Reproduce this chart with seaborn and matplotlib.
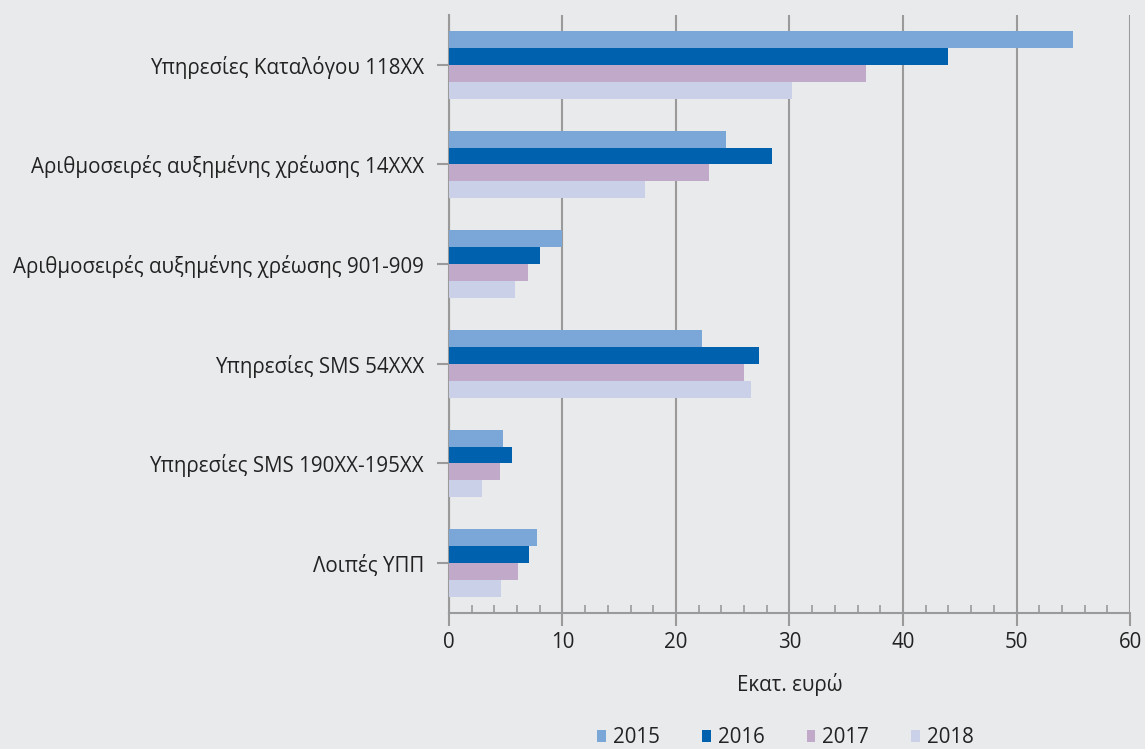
import matplotlib
matplotlib.use("Agg")
import matplotlib.pyplot as plt
import seaborn as sns
import pandas as pd
from matplotlib.ticker import MultipleLocator

categories = [
    "Υπηρεσίες Καταλόγου 118XX",
    "Αριθμοσειρές αυξημένης χρέωσης 14XXX",
    "Αριθμοσειρές αυξημένης χρέωσης 901-909",
    "Υπηρεσίες SMS 54XXX",
    "Υπηρεσίες SMS 190XX-195XX",
    "Λοιπές ΥΠΠ",
]
years = ["2015", "2016", "2017", "2018"]
v2015 = [55.0, 24.4, 10.0, 22.3, 4.8, 7.8]
v2016 = [44.0, 28.5, 8.0, 27.3, 5.6, 7.1]
v2017 = [36.7, 22.9, 7.0, 26.0, 4.5, 6.1]
v2018 = [30.2, 17.3, 5.8, 26.6, 2.9, 4.6]
colors = ["#7BA7D8", "#0061AE", "#C0A9C9", "#CAD0E8"]

rows = []
for y, vals in zip(years, [v2015, v2016, v2017, v2018]):
    for c, v in zip(categories, vals):
        rows.append({"category": c, "year": y, "value": v})
df = pd.DataFrame(rows)

sns.set_theme(style="white")
plt.rcParams["font.family"] = ["Open Sans", "DejaVu Sans"]
bg = "#E9EAEC"
txt = "#222222"
gridc = "#9A9A9A"
fs = 14.8

fig = plt.figure(figsize=(11.45, 7.49), dpi=100, facecolor=bg)
ax = fig.add_axes([0.392, 0.1816, 0.595, 0.7984])
ax.set_facecolor(bg)

sns.barplot(data=df, x="value", y="category", hue="year", order=categories,
            hue_order=years, palette=colors, orient="h", width=0.68,
            saturation=1, ax=ax, legend=True, edgecolor="none", zorder=3)

ax.set_xlim(0, 60)
ax.set_ylim(5.5, -0.5)
ax.xaxis.set_major_locator(MultipleLocator(10))
ax.xaxis.set_minor_locator(MultipleLocator(2))
ax.grid(axis="x", which="major", color=gridc, linewidth=1.5, zorder=0)
ax.grid(axis="y", visible=False)
for s in ["top", "right"]:
    ax.spines[s].set_visible(False)
for s in ["left", "bottom"]:
    ax.spines[s].set_color(gridc)
    ax.spines[s].set_linewidth(1.5)
ax.tick_params(axis="x", which="major", direction="out", length=9, width=1.5,
               color=gridc, labelsize=fs, labelcolor=txt, pad=5, bottom=True)
ax.tick_params(axis="x", which="minor", direction="in", length=6, width=1.2,
               color=gridc, bottom=True)
ax.tick_params(axis="y", which="major", direction="out", length=9, width=1.5,
               color=gridc, labelsize=fs, labelcolor=txt, pad=9, left=True)
ax.set_ylabel("")
ax.set_xlabel("Εκατ. ευρώ", fontsize=fs, color=txt, labelpad=14)

handles, labels = ax.get_legend_handles_labels()
ax.get_legend().remove()
fig.legend(handles, labels, loc="center", bbox_to_anchor=(0.686, 0.015),
           ncol=4, frameon=False, fontsize=fs, handlelength=0.42,
           handleheight=0.58, handletextpad=0.35, columnspacing=2.05,
           labelcolor=txt)

fig.savefig("out.png", dpi=100, facecolor=bg)
